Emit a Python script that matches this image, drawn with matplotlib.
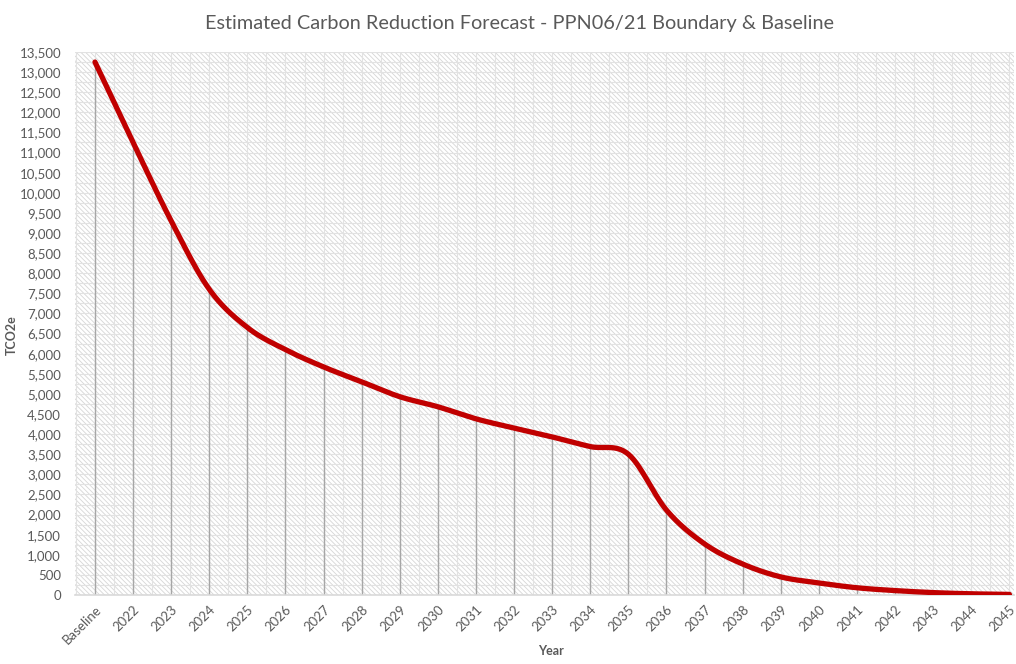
import matplotlib
matplotlib.use("Agg")
import matplotlib.pyplot as plt
import numpy as np
from matplotlib.patches import Rectangle
from matplotlib.ticker import FuncFormatter, MultipleLocator

categories = ["Baseline"] + [str(y) for y in range(2022, 2046)]
values = [13250, 11250, 9300, 7600, 6650, 6100, 5670, 5300, 4930, 4680,
          4380, 4150, 3930, 3690, 3500, 2110, 1270, 770, 450, 300,
          180, 110, 60, 30, 15]
title = "Estimated Carbon Reduction Forecast - PPN06/21 Boundary & Baseline"
ylabel = "TCO2e"
xlabel = "Year"

plt.rcParams['font.family'] = ['Lato', 'DejaVu Sans']
grey = "#595959"

fig = plt.figure(figsize=(10.16, 6.64), dpi=100)
ax = fig.add_axes([0.0738, 0.1039, 0.9242, 0.8178])

x = np.arange(len(values))
y = np.array(values, dtype=float)

# background hatch
plt.rcParams['hatch.color'] = '#d6d6d6'
plt.rcParams['hatch.linewidth'] = 0.6
bg = Rectangle((0, 0), 1, 1, transform=ax.transAxes, facecolor='white',
               hatch='\\\\\\\\\\\\\\', edgecolor='#d6d6d6', linewidth=0, zorder=0)
ax.add_patch(bg)

# grid
for yy in np.arange(0, 13501, 250):
    ax.axhline(yy, color='#e2e2e2', lw=0.8, zorder=0.5)
for xx in np.arange(-0.5, len(values), 0.5):
    ax.axvline(xx, color='#e2e2e2', lw=0.8, zorder=0.5)

# drop lines
ax.vlines(x, 0, y, color='#a6a6a6', lw=1.0, zorder=1)

# smooth curve (Catmull-Rom, like Excel smoothing)
pts = np.column_stack([x, y]).astype(float)
P = np.vstack([pts[0], pts, pts[-1]])
cx, cy = [], []
t = np.linspace(0, 1, 30)
for i in range(1, len(P) - 2):
    p0, p1, p2, p3 = P[i - 1], P[i], P[i + 1], P[i + 2]
    b1 = p1 + (p2 - p0) / 6
    b2 = p2 - (p3 - p1) / 6
    for tt in t:
        pt = ((1 - tt) ** 3) * p1 + 3 * ((1 - tt) ** 2) * tt * b1 + 3 * (1 - tt) * tt ** 2 * b2 + tt ** 3 * p2
        cx.append(pt[0]); cy.append(pt[1])
ax.plot(cx, cy, color='#c00000', lw=3.8, solid_capstyle='round', zorder=3)

ax.set_xlim(-0.525, 24.12)
ax.set_ylim(0, 13500)
ax.yaxis.set_major_locator(MultipleLocator(500))
ax.yaxis.set_major_formatter(FuncFormatter(lambda v, p: f"{int(v):,}"))
ax.set_xticks(x)
ax.set_xticklabels(categories, rotation=45, ha='right', va='top',
                   rotation_mode='anchor', fontsize=9.5, color=grey)
ax.tick_params(axis='y', labelsize=9.5, labelcolor=grey, length=0, pad=10)
ax.tick_params(axis='x', length=0, pad=6)

for s in ['top', 'right', 'left']:
    ax.spines[s].set_visible(False)
ax.spines['bottom'].set_color('#d9d9d9')
ax.spines['bottom'].set_linewidth(1.2)

ax.set_ylabel(ylabel, fontsize=9, fontweight='bold', color=grey)
ax.yaxis.set_label_coords(-0.061, 0.479)
fig.text(0.5425, 0.01, xlabel, fontsize=9, fontweight='bold', color=grey,
         ha='center', va='bottom')
fig.text(0.511, 0.965, title, fontsize=14.3, color=grey, ha='center', va='center')

fig.savefig("out.png", dpi=100)
